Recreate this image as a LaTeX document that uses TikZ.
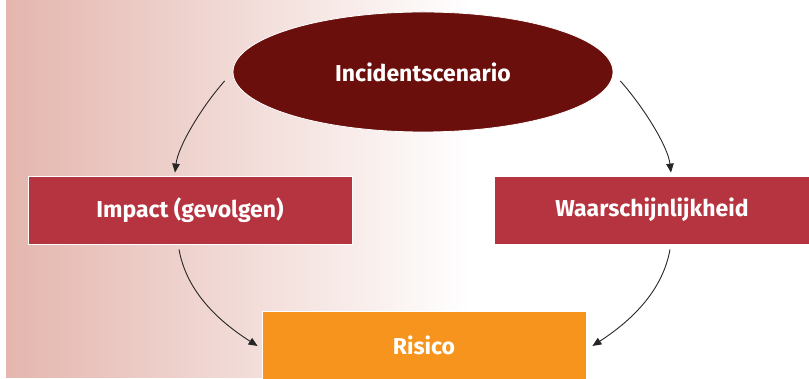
\documentclass[tikz,border=0pt]{standalone}
\usepackage{fontspec}
\setmainfont{Fira Sans}
\usetikzlibrary{shapes.geometric,arrows.meta}
\definecolor{bgpink}{HTML}{E4B6AE}
\definecolor{maroon}{HTML}{6B0F0C}
\definecolor{boxred}{HTML}{B5343F}
\definecolor{risorange}{HTML}{F7941D}
\tikzset{
  lbl/.style={text=white,font=\fontsize{23}{27}\selectfont\bfseries},
  rbox/.style={rectangle,draw=white,line width=0.8pt,fill=boxred,minimum height=68pt,inner sep=0pt,lbl},
  arr/.style={draw=black!85,line width=0.9pt,-{Triangle[length=9pt,width=7.5pt]}}
}
\begin{document}
\begin{tikzpicture}[x=1pt,y=1pt]
\useasboundingbox (0,0) rectangle (809,379);
\shade[left color=bgpink,right color=white] (6,1) rectangle (470,379);
\node[ellipse,draw=white,line width=0.8pt,fill=maroon,minimum width=380pt,minimum height=120pt,inner sep=0pt,lbl] (ell) at (423,307) {Incidentscenario};
\node[rbox,minimum width=324pt] (imp) at (190,169) {Impact (gevolgen)};
\node[rbox,minimum width=316pt] (waar) at (652,169) {Waarschijnlijkheid};
\node[rectangle,draw=white,line width=0.8pt,fill=risorange,minimum width=324pt,minimum height=68pt,inner sep=0pt,lbl] (ris) at (424,34) {Risico};
\coordinate (s1) at ([shift={(-8,-9)}]ell.west);
\coordinate (s2) at ([shift={(7,-9)}]ell.east);
\coordinate (s3) at ([shift={(-11,-5)}]imp.south);
\coordinate (s4) at ([shift={(18,-5)}]waar.south);
\draw[arr] (s1) .. controls (200,270) and (178,232) .. ([shift={(-15,3)}]imp.north);
\draw[arr] (s2) .. controls (645,270) and (668,232) .. ([shift={(19,3)}]waar.north);
\draw[arr] (s3) .. controls (186,90) and (215,60) .. ([xshift=-4pt,yshift=-1pt]ris.west);
\draw[arr] (s4) .. controls (663,90) and (634,60) .. ([xshift=6pt,yshift=-1pt]ris.east);
\end{tikzpicture}
\end{document}
